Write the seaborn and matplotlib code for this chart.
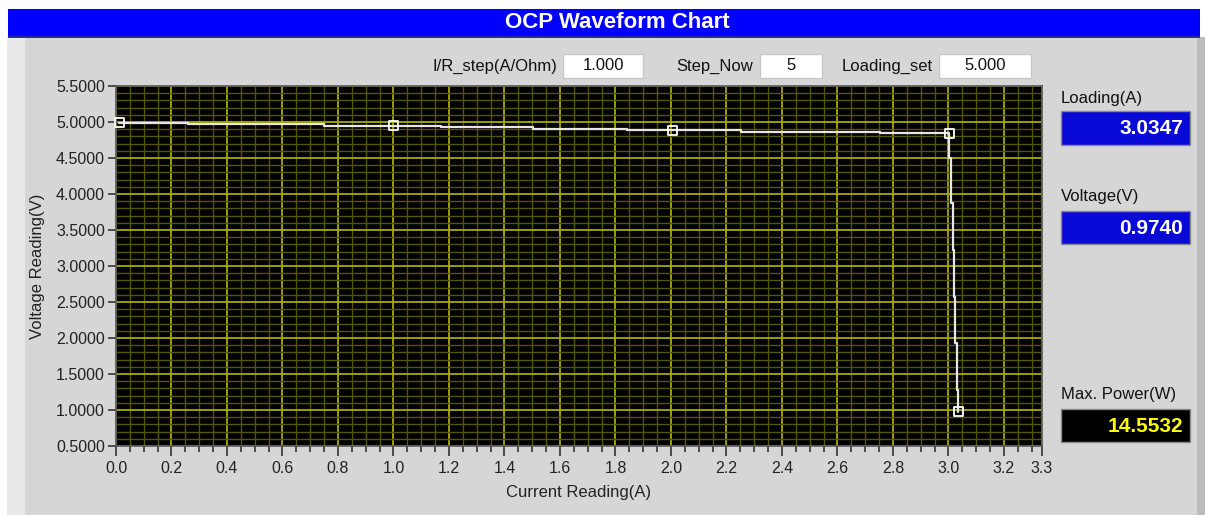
"""
OCP waveform chart (LabVIEW style front panel) redrawn with seaborn
"""

import numpy as np
import matplotlib
matplotlib.use("Agg")
import matplotlib.pyplot as plt
from matplotlib.patches import Rectangle
from matplotlib.ticker import FixedLocator, MultipleLocator, FormatStrFormatter
import seaborn as sns

# trace readings (drawn as a stepped line)
current = [0.012, 0.258, 0.750, 1.170, 1.504, 1.840, 2.251, 2.753,
           3.003, 3.010, 3.015, 3.020, 3.025, 3.030, 3.0347]
voltage = [4.990, 4.972, 4.949, 4.926, 4.903, 4.885, 4.861, 4.843,
           4.496, 3.871, 3.222, 2.574, 1.926, 1.278, 0.974]

# readings taken at each load step (square markers)
step_current = [0.012, 0.999, 2.005, 3.003, 3.0347]
step_voltage = [4.990, 4.949, 4.885, 4.843, 0.974]

x_major = [0.0, 0.2, 0.4, 0.6, 0.8, 1.0, 1.2, 1.4, 1.6, 1.8, 2.0,
           2.2, 2.4, 2.6, 2.8, 3.0, 3.2]
x_end = 3.337
y_major = [0.5, 1.0, 1.5, 2.0, 2.5, 3.0, 3.5, 4.0, 4.5, 5.0, 5.5]

controls = [("I/R_step(A/Ohm)", "1.000"), ("Step_Now", "5"), ("Loading_set", "5.000")]
readouts = [("Loading(A)", "3.0347"), ("Voltage(V)", "0.9740"), ("Max. Power(W)", "14.5532")]

W, H = 1205, 515

sns.set_style("dark")
plt.rcParams["font.family"] = ["Liberation Sans", "DejaVu Sans"]

fig = plt.figure(figsize=(W / 100, H / 100), dpi=100)
fig.patch.set_facecolor("white")


def box(x0, y0, x1, y1, color, edge="none"):
    """rectangle in pixel coords (origin top-left), kept behind the axes"""
    fig.patches.append(Rectangle((x0 / W, 1 - y1 / H), (x1 - x0) / W, (y1 - y0) / H,
                                 transform=fig.transFigure, facecolor=color,
                                 edgecolor=edge, lw=1, zorder=-1))


def text(x, y, s, **kw):
    fig.text(x / W, 1 - y / H, s, **kw)


# panel background
box(7, 37, 1205, 515, "#d6d6d6")
box(7, 37, 25, 515, "#e9e9e9")
box(1197, 37, 1205, 515, "#bcbcbc")

# title bar
box(8, 9, 1200, 37, "#0000ff")
box(8, 36, 1200, 38, "#2a2a9a")
text(617, 23, "OCP Waveform Chart", color="white", fontsize=16, fontweight="bold",
     ha="center", va="center")

# top controls
ctrl_pos = [(557, 563, 643), (753, 760, 822), (933, 939, 1031)]
for (label, val), (lx, bx0, bx1) in zip(controls, ctrl_pos):
    text(lx, 66, label, fontsize=12, ha="right", va="center", color="#111111")
    box(bx0, 54, bx1, 78, "white", edge="#c8c8c8")
    text((bx0 + bx1) / 2, 66, val, fontsize=12, ha="center", va="center", color="#111111")

# right readouts
read_pos = [(98, 111, 145, "#0a0ad8", "white"),
            (197, 211, 244, "#0a0ad8", "white"),
            (395, 409, 442, "black", "#ffff00")]
for (label, val), (ly, by0, by1, bg, fg) in zip(readouts, read_pos):
    text(1061, ly, label, fontsize=12, ha="left", va="center", color="#111111")
    box(1061, by0, 1190, by1, bg, edge="#8a8a8a")
    text(1183, (by0 + by1) / 2 + 1, val, fontsize=15, fontweight="bold",
         ha="right", va="center", color=fg)

# chart
ax = fig.add_axes([116 / W, 1 - 446 / H, (1042 - 116) / W, (446 - 86) / H])
ax.set_facecolor("black")

sns.lineplot(x=current, y=voltage, sort=False, estimator=None, drawstyle="steps-post",
             color="#e6e6e6", lw=1.6, ax=ax, zorder=5)
sns.scatterplot(x=step_current, y=step_voltage, marker="s", s=40, facecolor="none",
                edgecolor="white", linewidth=1.3, ax=ax, zorder=6, clip_on=False)

ax.set_xlim(0, x_end)
ax.set_ylim(y_major[0], y_major[-1])

ax.xaxis.set_major_locator(FixedLocator(x_major + [x_end]))
ax.set_xticklabels([f"{v:.1f}" for v in x_major] + ["3.3"])
ax.xaxis.set_minor_locator(MultipleLocator(0.05))
ax.yaxis.set_major_locator(FixedLocator(y_major))
ax.yaxis.set_major_formatter(FormatStrFormatter("%.4f"))
ax.yaxis.set_minor_locator(MultipleLocator(0.1))

ax.grid(which="minor", color="#555500", lw=1.0)
ax.grid(which="major", color="#a9a900", lw=1.3)
ax.set_axisbelow(True)

ax.tick_params(axis="x", which="major", direction="out", length=7, width=1.2,
               color="#333333", labelsize=11.5, labelcolor="#222222", pad=4, bottom=True)
ax.tick_params(axis="x", which="minor", direction="out", length=4, width=1.2,
               color="#333333", bottom=True)
ax.tick_params(axis="y", which="major", direction="out", length=6, width=1.2,
               color="#333333", labelsize=11.5, labelcolor="#222222", pad=2, left=True)
ax.tick_params(axis="y", which="minor", length=0)

for sp in ax.spines.values():
    sp.set_color("#555555")
    sp.set_linewidth(1.2)

ax.set_xlabel("Current Reading(A)", fontsize=12, color="#222222", labelpad=6)
ax.set_ylabel("Voltage Reading(V)", fontsize=12, color="#222222", labelpad=8)

fig.savefig("out.png", dpi=100)
